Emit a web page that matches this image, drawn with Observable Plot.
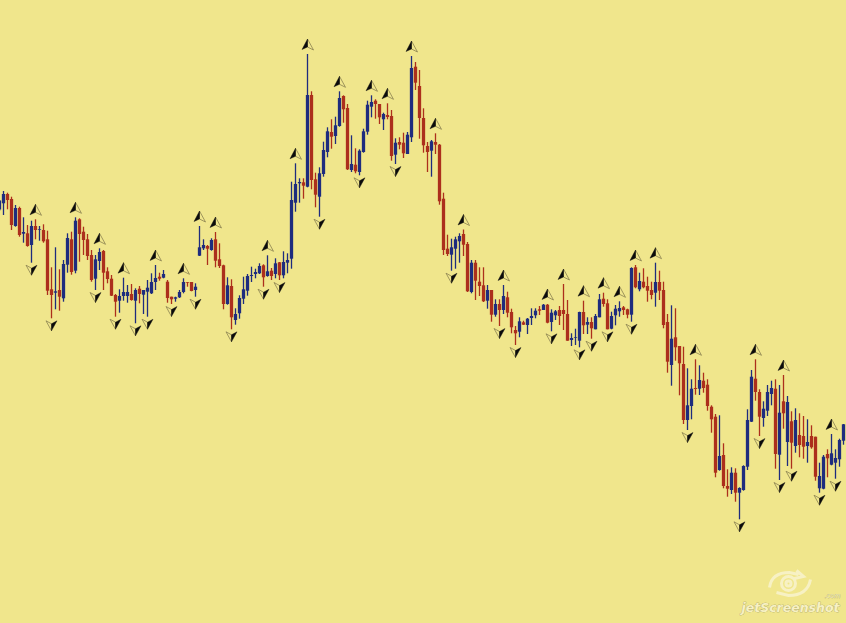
<!DOCTYPE html>
<html>
<head>
<meta charset="utf-8">
<script src="https://cdn.jsdelivr.net/npm/d3@7"></script>
<script src="https://cdn.jsdelivr.net/npm/@observablehq/plot@0.6"></script>
<style>
html,body{margin:0;padding:0;background:#F0E68C;overflow:hidden}
svg{display:block}
</style>
</head>
<body>
<div id="chart"></div>
<script>
// Levels are read from the picture, measured downward (no price axis is shown).
const dirs = [
"b","b","r","r","b","r","b","r","b","r","b","r","r","r","b","r","b","b","r","b",
"r","r","r","r","b","b","r","r","r","r","b","b","b","r","b","r","b","b","b","b",
"r","b","r","r","b","b","b","r","r","b","b","b","r","b","r","r","r","b","r","b",
"b","b","b","b","b","b","r","b","r","b","r","b","b","b","b","b","r","b","r","r",
"b","b","b","r","b","b","r","r","b","r","b","b","b","b","r","r","b","r","r","b",
"r","r","b","b","r","r","r","r","b","r","r","r","r","b","b","b","r","r","b","r",
"r","r","b","r","b","r","b","r","r","r","b","r","b","b","b","r","b","r","b","b",
"r","r","r","b","b","b","r","b","r","b","b","r","r","b","b","b","r","r","b","r",
"b","r","r","r","b","r","r","r","b","r","r","r","b","b","r","b","r","r","r","r",
"b","r","r","b","r","b","b","b","b","r","r","b","b","b","r","b","r","b","r","b",
"r","r","b","r","r","b","b","r","b","b","b","b"];
const highs = [
200,191,192.7,196.7,205,206.7,217.3,225,220.7,219.3,226,224.3,230.7,267.3,247.3,269.3,260,233.3,231.7,217.3,
218.3,226.7,234,250,255,248.3,250,267.3,275,294,289.3,277.7,285,284,288.3,286,290,280,273.3,265,
272.7,270,280,296.7,296.7,290,278.3,282,282,283.3,226,239.3,245,238.3,232,243.3,264.7,277.3,279.3,308.3,
295.3,276.7,274,266.7,268.7,263.3,264.3,255.3,268,258.3,262,251.3,253.3,181.7,163.3,178.3,178.3,54,91.3,172.7,
167.3,141.7,127.3,119.3,116.7,91.3,95.3,104,135.3,148.3,149.3,128.7,100.7,95.3,99.3,104,112.7,103.3,110,138.3,
137.3,132.7,132,56,62,70,108.3,142,140,133.3,144,192.7,234.7,238.7,236.7,233.3,229.5,242,260,260,
267.3,267.3,285,290,299.3,299.3,285,291.7,308.7,326,317.3,320.7,318,308.3,308.3,306,304,304,309.3,310,
306,284,300,333.3,328.7,311.7,300.7,317.3,317.3,314,294,292.7,299.3,311.7,305,301.3,306,308.7,267.3,265,
272.7,268.3,276.7,281.7,262.7,270.7,281.7,314,305.3,308.3,346,346.7,368.3,379.3,359.3,365.3,372.7,379.3,405.3,414,
415.3,443.3,469.3,467.3,468.3,487.3,465.3,409.3,370,359.3,389.3,401.3,385,380.7,379.3,385,375,396,411.3,408.3,
413.3,416,419.3,425.3,436.7,462.7,455,449.3,434,449.3,438.7,424];
const bodyTop = [
200.5,194,194,199,208,208,232,233.3,226,226,229.3,230,239.3,289.3,291.3,290,264,238,239.3,220.7,
219.3,231.7,239.3,255,259.3,252,251,271.3,278.7,295,296,292,292,294,290,288.7,290,287.7,282,278,
276.7,274,281.7,296.7,297.3,292,282,282,282,286.7,247.3,245,246,240,239.3,259.3,265.3,285.3,286,314,
298,289.3,276,275,272,266,265.3,271.3,270.7,263.3,262.3,262,260,200,184,182,182.3,95,95,179.3,
173.3,150,131.3,132,125.3,98,96,108,164,164.7,150.7,131.3,104.7,102,100.7,104,114,115,116,142.7,
142,142.7,134.7,68,66.7,86,118,146,141.3,142,144.7,198.7,248.7,247.3,239.3,236,234,244,262.7,262.7,
281.7,285.3,290,290,304,304,296,297.3,312,330,321.3,322.3,318.7,316,310.7,309.3,304.7,304.7,312.7,311.3,
310,310,314,338,337,312,312,322,322,316,299.3,298.7,303.3,316,308.7,308,307.3,309.3,268,267.3,
281,281.7,286,290,282,282,290,322,338.7,337.3,346,364,405.3,388.7,388,380,380.7,384.7,406.7,416.7,
456,455,486,472.7,472.7,488,466,420,376.7,378.7,392,408.7,392,388,388.7,412.7,401.3,402,421.3,420,
435,436,442,436,436.7,476,456.7,454,453.3,458,440,424.3];
const bodyBottom = [
209.5,203.3,200,225,226,235,233.7,246,245,230,230,241.3,290.7,295,292.7,296.7,298.3,264.7,272,270.7,
234,240,256,280,278.7,261,272.7,279,295.7,301.7,300.7,296,296,300,300.7,294,294.7,291.7,293.3,282,
278.7,277.7,298,299.3,298.7,297.3,292,282.7,291,290,255.7,248.3,248.7,250,260.7,266,304,304,317.3,320,
313.3,298.7,290.7,276,274,273.3,277.3,276,276,274,275.3,275.3,262.7,258.7,202.7,183.3,185.7,186.7,180,194.7,
196.7,174,152,136.7,136,126,109.3,169.3,170,171.3,172,152,131.7,106.7,104,117.3,119.3,117,156,154.7,
144.7,153.3,154,137.3,82.7,118,145.3,152,150.7,144.7,201.3,250,254,254.7,248.7,241.3,244.7,291.3,292,280.7,
286,301.3,300.7,314.7,314.7,310,310,312.7,327.3,333.3,331.7,324.7,325,318,315.3,310.7,310,322.7,322,315.3,
316,314,340.7,340,337.7,340.7,325.3,324.7,328.3,329.3,317.3,304,329.3,328.7,315.3,311.3,310,314.7,314.7,287.3,
289.3,287.3,290.7,295,292.7,290.7,325,361.7,365,347.3,363.3,420,420,406,389,388.7,388,406,419.3,472.7,
470,486,488.7,490,492.7,492.7,490,466.7,421.7,392,416.7,418,410.7,394,454,454.7,413.3,442,442.7,446,
445,446.7,446,447.3,476.7,488.3,488.7,458.3,464.7,462.7,459.3,440.7];
const lows = [
211,215,209.3,230,226.7,236.7,242.7,246.7,262.7,239.3,240.7,242.7,295,318.3,309.3,310.7,301.7,272.7,274.7,273.3,
261.7,255,260,281.7,290,270,290,283.3,296,316.7,312.7,300.7,302.7,300.7,323.3,303.3,314,316.7,294,290,
280.7,278.3,302.7,304,301.7,298,293.3,286.7,291.3,296.7,256,250,265,250.7,267.3,268,309.3,304.7,329.3,324.7,
318.7,304,295.7,282,278.3,274,286.7,276.7,280,278.3,280,278.3,273.3,268.7,211.7,202.7,198.7,187.3,189.3,207.3,
216.7,176.7,157.3,148.7,144,126.7,122.7,170,172,173.3,175.3,152.7,134.7,117.3,118.7,124,130,119.3,160.7,164,
149.3,158,154,142,90,138.7,152.7,172,176.7,154,204.7,255,256,270.7,268.7,262.7,256,292,293.3,300,
296,302,308.7,321.7,316.7,326,314,317.3,333.3,345,337.3,325,334,325,318.3,315,310,323.3,331.3,320,
325,330,340.7,346,345,347.3,334,334,338.7,329.3,317.3,306.7,329.3,329.3,325.3,316.7,315,318.3,321.7,288.3,
291.3,288.3,301.7,299.3,306.7,300,328.3,372.7,385.7,360.7,395.3,424,430,419.3,394.7,395,392.7,410.7,432.7,477.3,
470.7,488.3,496.7,494,501.7,519.3,490.7,470,422,400.7,436,426.7,416,405.3,468.7,480,428.7,466,468.7,452.7,
457.3,458.7,462.7,448.7,480.7,492.7,489.3,477.3,465.3,478.7,466.7,444.7];
const upFractals = [9,19,25,31,39,46,50,54,67,74,77,85,93,97,103,109,116,126,137,141,146,151,155,159,164,174,189,196,208];
const downFractals = [8,13,24,29,34,37,43,49,58,66,70,80,90,99,113,125,129,138,145,148,152,158,172,185,190,195,198,205,209];
const watermarkName = "jetScreenshot";
const watermarkDomain = ".com";

const red = "#AC2F1C", blue = "#1E2C7E", paper = "#F0E68C", cream = "#F7F1C4", edge = "#8F8A5C", markEdge = "#8A8250";

const candles = highs.map((h, i) => ({i, dir: dirs[i], high: h, low: lows[i], top: bodyTop[i], bottom: bodyBottom[i]}));
const colorOf = d => d.dir === "b" ? blue : red;

const poly = (ctx, pts) => { ctx.moveTo(...pts[0]); pts.slice(1).forEach(p => ctx.lineTo(...p)); ctx.closePath(); };
const upLight = {draw(c){ poly(c, [[0,-5.5],[6,5.5],[0,2.5]]); }};
const upDark  = {draw(c){ poly(c, [[0,-5.5],[-5.5,5],[0,2.5]]); }};
const dnLight = {draw(c){ poly(c, [[0,5],[-5.5,-5],[0,-2]]); }};
const dnDark  = {draw(c){ poly(c, [[0,5],[5.5,-5],[0,-2]]); }};
const logo = {draw(c){
  c.moveTo(-19,4); c.quadraticCurveTo(-17,-11,1,-11); c.lineTo(10,-9);
  c.moveTo(8,-13); c.lineTo(15,-7); c.lineTo(6,-5);
  c.moveTo(22,-4); c.quadraticCurveTo(19,12,0,12); c.lineTo(-12,9);
  c.moveTo(7,0); c.arc(0,0,7,0,Math.PI*2);
  c.moveTo(2.5,0); c.arc(0,0,2.5,0,Math.PI*2);
}};

const ups = upFractals.map(i => candles[i]);
const downs = downFractals.map(i => candles[i]);

const plot = Plot.plot({
  width: 846, height: 623,
  margin: 0,
  style: {background: paper},
  x: {domain: [0, 211], range: [-1, 843], axis: null},
  y: {domain: [0, 623], range: [0, 623], axis: null},
  marks: [
    Plot.ruleX(candles, {x: "i", y1: "high", y2: "low", stroke: colorOf, strokeWidth: 1.3}),
    Plot.ruleX(candles, {x: "i", y1: "top", y2: "bottom", stroke: colorOf, strokeWidth: 3.3}),
    Plot.dot(ups, {x: "i", y: "high", dx: 0, dy: -10, symbol: upLight, fill: paper, stroke: markEdge, strokeWidth: 0.8}),
    Plot.dot(ups, {x: "i", y: "high", dx: 0, dy: -10, symbol: upDark, fill: "#0b0b0b", stroke: "#0b0b0b", strokeWidth: 0.4}),
    Plot.dot(downs, {x: "i", y: "low", dx: 0, dy: 7, symbol: dnLight, fill: paper, stroke: markEdge, strokeWidth: 0.8}),
    Plot.dot(downs, {x: "i", y: "low", dx: 0, dy: 7, symbol: dnDark, fill: "#0b0b0b", stroke: "#0b0b0b", strokeWidth: 0.4}),
    Plot.dot([0], {frameAnchor: "bottom-right", dx: -58, dy: -40, symbol: logo, fill: "none", stroke: cream, strokeWidth: 3}),
    Plot.text([watermarkName], {frameAnchor: "bottom-right", dx: -7, dy: -12, text: d => d, fontFamily: "DejaVu Sans", fontStyle: "italic", fontWeight: 700, fontSize: 12.5, fill: cream, stroke: edge, strokeWidth: 0.5, paintOrder: "stroke", textAnchor: "end"}),
    Plot.text([watermarkDomain], {frameAnchor: "bottom-right", dx: -6, dy: -26, text: d => d, fontFamily: "DejaVu Sans", fontStyle: "italic", fontSize: 6.5, fill: cream, stroke: edge, strokeWidth: 0.3, paintOrder: "stroke", textAnchor: "end"})
  ]
});
document.getElementById("chart").append(plot);
</script>
</body>
</html>
